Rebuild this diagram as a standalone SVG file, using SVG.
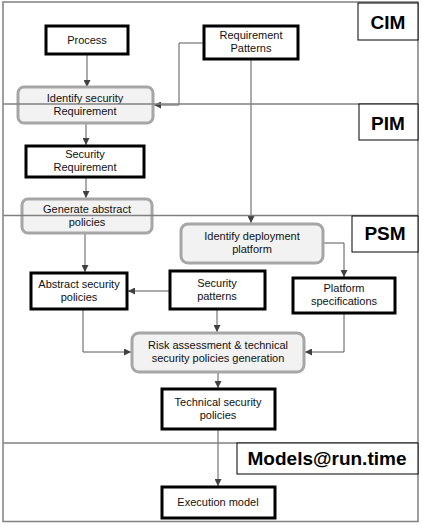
<svg xmlns="http://www.w3.org/2000/svg" width="423" height="525" viewBox="0 0 423 525">
<style>
.frame{fill:none;stroke:#808080;stroke-width:1.5}
.sep{stroke:#808080;stroke-width:1.5}
.lbl{fill:#fff;stroke:#000;stroke-width:1}
.lt{font-family:"Liberation Sans",Arial,sans-serif;font-weight:bold;font-size:19px;text-anchor:middle;fill:#000}
.box{fill:#fff;stroke:#000;stroke-width:3}
.act{fill:#f2f2f2;stroke:#a6a6a6;stroke-width:3}
.t{font-family:"Liberation Sans",Arial,sans-serif;font-size:11px;text-anchor:middle;fill:#111}
.c{fill:none;stroke:#595959;stroke-width:1;marker-end:url(#ah)}
</style>
<defs>
<marker id="ah" viewBox="0 0 10 10" refX="10" refY="5" markerWidth="7" markerHeight="7" markerUnits="userSpaceOnUse" orient="auto">
<path d="M0,0 L10,5 L0,10 z" fill="#404040"/>
</marker>
</defs>
<rect x="0" y="0" width="423" height="525" fill="#fff"/>
<rect class="frame" x="3" y="2" width="415" height="519.5"/>

<g id="connectors">
<path class="c" d="M87,54 V87"/>
<path class="c" d="M204,43 H179 V105 H154"/>
<path class="c" d="M251,59 V223"/>
<path class="c" d="M86,123 V145"/>
<path class="c" d="M86,177 V198"/>
<path class="c" d="M85,233 V272"/>
<path class="c" d="M170,291 H128"/>
<path class="c" d="M323,243 H344 V277"/>
<path class="c" d="M217,309 V332"/>
<path class="c" d="M83,309 V352 H131"/>
<path class="c" d="M344,313 V352 H305"/>
<path class="c" d="M218,372 V388"/>
<path class="c" d="M218,429 V486"/>
</g>

<g id="process"><rect class="box" x="46" y="26" width="82" height="28"/><text class="t" x="87" y="44">Process</text></g>
<g id="requirement-patterns"><rect class="box" x="204" y="26" width="94" height="33"/><text class="t" x="251" y="39">Requirement</text><text class="t" x="251" y="52">Patterns</text></g>
<g id="identify-security"><rect class="act" x="18" y="87" width="135" height="36" rx="6"/><text class="t" x="85" y="102">Identify security</text><text class="t" x="85" y="115">Requirement</text></g>
<g id="security-requirement"><rect class="box" x="26" y="146" width="118" height="31"/><text class="t" x="85" y="158">Security</text><text class="t" x="85" y="171">Requirement</text></g>
<g id="generate-abstract"><rect class="act" x="22" y="199" width="130" height="34" rx="6"/><text class="t" x="87" y="213">Generate abstract</text><text class="t" x="87" y="226">policies</text></g>
<g id="identify-deployment"><rect class="act" x="181" y="224" width="142" height="39" rx="7"/><text class="t" x="252" y="240">Identify deployment</text><text class="t" x="252" y="253">platform</text></g>
<g id="abstract-policies"><rect class="box" x="31" y="273" width="96" height="36"/><text class="t" x="79" y="288">Abstract security</text><text class="t" x="79" y="301">policies</text></g>
<g id="security-patterns"><rect class="box" x="170" y="271" width="95" height="38"/><text class="t" x="217" y="287">Security</text><text class="t" x="217" y="300">patterns</text></g>
<g id="platform-specifications"><rect class="box" x="293" y="278" width="102" height="35"/><text class="t" x="344" y="292">Platform</text><text class="t" x="344" y="305">specifications</text></g>
<g id="risk-assessment"><rect class="act" x="132" y="333" width="172" height="39" rx="7"/><text class="t" x="218" y="349">Risk assessment  &amp; technical</text><text class="t" x="218" y="362">security policies generation</text></g>
<g id="technical-policies"><rect class="box" x="162" y="389" width="113" height="40"/><text class="t" x="218" y="406">Technical security</text><text class="t" x="218" y="419">policies</text></g>
<g id="execution-model"><rect class="box" x="162" y="487" width="113" height="31"/><text class="t" x="218" y="506">Execution model</text></g>

<g id="lanes">
<line class="sep" x1="3" y1="104" x2="418" y2="104"/>
<line class="sep" x1="3" y1="215.5" x2="418" y2="215.5"/>
<line class="sep" x1="3" y1="443" x2="418" y2="443"/>
<rect class="lbl" x="358" y="3" width="60" height="37"/><text class="lt" x="388" y="29">CIM</text>
<rect class="lbl" x="359" y="104" width="59" height="36"/><text class="lt" x="388" y="130">PIM</text>
<rect class="lbl" x="352" y="216" width="66" height="36"/><text class="lt" x="385" y="240">PSM</text>
<rect class="lbl" x="237" y="443" width="181" height="31"/><text class="lt" x="327" y="465">Models@run.time</text>
</g>
</svg>
